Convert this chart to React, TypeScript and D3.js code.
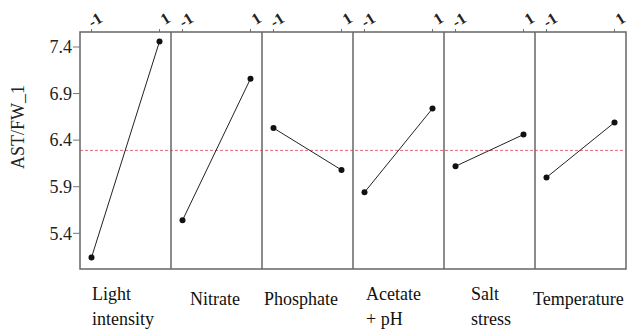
import { useEffect, useRef } from 'react';
import * as d3 from 'd3';

const W = 627;
const H = 331;

// factors (lines of bottom label)
const factors = [
  ['Light', 'intensity'],
  ['Nitrate'],
  ['Phosphate'],
  ['Acetate', '+ pH'],
  ['Salt', 'stress'],
  ['Temperature'],
];
// mean response at level -1 and 1
const lowMeans = [5.14, 5.54, 6.53, 5.84, 6.12, 6.0];
const highMeans = [7.46, 7.06, 6.08, 6.74, 6.46, 6.59];
const levels = [-1, 1];
const yTicks = [5.4, 5.9, 6.4, 6.9, 7.4];
const grandMean = 6.29;
// label x offsets inside each panel
const labelDx = [12, 19, 2, 13, 27, -2];

const FONT = "'Liberation Serif', 'DejaVu Serif', 'Times New Roman', Times, serif";

export default function App() {
  const svgRef = useRef<SVGSVGElement>(null);

  useEffect(() => {
    if (!svgRef.current) return;
    const svg = d3.select(svgRef.current);
    svg.selectAll('*').remove();

    const left = 80, right = 626, top = 32, bottom = 269;

    const y = d3.scaleLinear().domain([5.4, 7.4]).range([233.3, 47]);
    const panel = d3.scaleBand<number>()
      .domain(d3.range(factors.length))
      .range([left, right])
      .paddingInner(0);
    const pw = panel.bandwidth();
    const xIn = (i: number) => d3.scaleLinear().domain([-1, 1])
      .range([panel(i)! + 11.5, panel(i)! + pw - 11.5]);

    // mean reference line
    svg.append('line')
      .attr('x1', left).attr('x2', right)
      .attr('y1', y(grandMean)).attr('y2', y(grandMean))
      .attr('stroke', '#e8667e').attr('stroke-width', 1)
      .attr('stroke-dasharray', '3,2');

    // panels
    factors.forEach((lines, i) => {
      const x = xIn(i);
      const g = svg.append('g');

      // top ticks + rotated labels
      levels.forEach(l => {
        g.append('line')
          .attr('x1', x(l)).attr('x2', x(l))
          .attr('y1', top).attr('y2', top - 3)
          .attr('stroke', '#777').attr('stroke-width', 1);
        g.append('text')
          .attr('transform', `translate(${x(l) + 12},${top - 11}) rotate(-32)`)
          .attr('text-anchor', 'end')
          .style('font-family', FONT)
          .attr('font-size', 16)
          .attr('font-weight', 'bold')
          .attr('fill', '#222')
          .text(String(l));
      });

      const pts: [number, number][] = [[-1, lowMeans[i]], [1, highMeans[i]]];
      g.append('path')
        .attr('d', d3.line<[number, number]>().x(d => x(d[0])).y(d => y(d[1]))(pts))
        .attr('fill', 'none').attr('stroke', '#222').attr('stroke-width', 1);
      g.selectAll('circle').data(pts).enter().append('circle')
        .attr('cx', d => x(d[0])).attr('cy', d => y(d[1]))
        .attr('r', 3).attr('fill', '#111');

      // bottom label
      const tx = g.append('text')
        .style('font-family', FONT).attr('font-size', 18).attr('fill', '#111');
      const baseY = lines.length > 1 ? 300 : 305;
      lines.forEach((s, k) => {
        tx.append('tspan')
          .attr('x', panel(i)! + labelDx[i])
          .attr('y', baseY + k * 25)
          .text(s);
      });
    });

    // panel frame and dividers
    svg.append('rect')
      .attr('x', left).attr('y', top)
      .attr('width', right - left).attr('height', bottom - top)
      .attr('fill', 'none').attr('stroke', '#666').attr('stroke-width', 1.5);
    d3.range(1, factors.length).forEach(i => {
      svg.append('line')
        .attr('x1', panel(i)!).attr('x2', panel(i)!)
        .attr('y1', top).attr('y2', bottom)
        .attr('stroke', '#666').attr('stroke-width', 1.5);
    });

    // y axis
    const ya = svg.append('g');
    yTicks.forEach(t => {
      ya.append('line')
        .attr('x1', left - 7).attr('x2', left)
        .attr('y1', y(t)).attr('y2', y(t))
        .attr('stroke', '#777').attr('stroke-width', 1);
      ya.append('text')
        .attr('x', left - 8).attr('y', y(t))
        .attr('dy', '0.35em')
        .attr('text-anchor', 'end')
        .style('font-family', FONT).attr('font-size', 18).attr('fill', '#222')
        .text(t.toFixed(1));
    });

    svg.append('text')
      .attr('transform', `translate(24,127) rotate(-90)`)
      .attr('text-anchor', 'middle')
      .style('font-family', FONT).attr('font-size', 18).attr('fill', '#222')
      .text('AST/FW_1');
  }, []);

  return (
    <svg
      ref={svgRef}
      width={W}
      height={H}
      style={{ position: 'absolute', left: 0, top: 0, background: '#fff' }}
    />
  );
}
